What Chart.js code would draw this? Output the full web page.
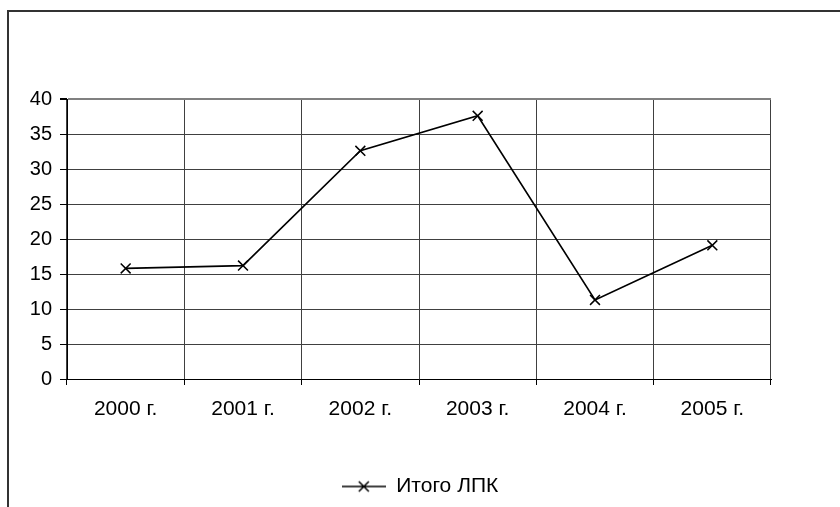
<!DOCTYPE html>
<html>
<head>
<meta charset="utf-8">
<script src="https://cdn.jsdelivr.net/npm/chart.js@4/dist/chart.umd.min.js"></script>
<style>
  html, body { margin: 0; padding: 0; background: #fff; }
  #wrap { width: 840px; height: 507px; }
</style>
</head>
<body>
<div id="wrap"><canvas id="chart" width="840" height="507"></canvas></div>
<script>
  const years = ['2000 г.', '2001 г.', '2002 г.', '2003 г.', '2004 г.', '2005 г.'];
  const totalLpk = [15.8, 16.2, 32.6, 37.6, 11.3, 19.1];
  const seriesLabel = 'Итого ЛПК';
  const yMin = 0;
  const yMax = 40;
  const yStep = 5;

  const fontFamily = '"Liberation Sans", Arial, sans-serif';

  // legend symbol: short line with a rotated cross in the middle
  const legendMark = document.createElement('canvas');
  legendMark.width = 44;
  legendMark.height = 14;
  (() => {
    const c = legendMark.getContext('2d');
    c.strokeStyle = '#000';
    c.lineWidth = 1.5;
    c.beginPath();
    c.moveTo(0, 7);
    c.lineTo(44, 7);
    c.moveTo(17, 2);
    c.lineTo(27, 12);
    c.moveTo(27, 2);
    c.lineTo(17, 12);
    c.stroke();
  })();

  const frame = {
    id: 'frame',
    beforeDraw(chart) {
      const ctx = chart.ctx;
      ctx.save();
      ctx.strokeStyle = '#333';
      ctx.lineWidth = 2;
      ctx.beginPath();
      ctx.moveTo(8, 507);
      ctx.lineTo(8, 11);
      ctx.lineTo(840, 11);
      ctx.stroke();
      ctx.restore();
    },
  };

  new Chart(document.getElementById('chart').getContext('2d'), {
    type: 'line',
    data: {
      labels: years,
      datasets: [
        {
          label: seriesLabel,
          data: totalLpk,
          borderColor: '#000',
          borderWidth: 1.6,
          pointStyle: 'crossRot',
          pointRadius: 7,
          pointBorderColor: '#000',
          pointBorderWidth: 1.5,
          tension: 0,
        },
      ],
    },
    options: {
      responsive: false,
      animation: false,
      layout: { padding: { top: 99, right: 0, left: 0, bottom: 0 } },
      plugins: {
        tooltip: { enabled: false },
        legend: {
          position: 'bottom',
          labels: {
            color: '#000',
            font: { family: fontFamily, size: 21 },
            usePointStyle: true,
            pointStyle: legendMark,
            pointStyleWidth: 44,
            padding: 10,
            generateLabels(chart) {
              return chart.data.datasets.map((ds, i) => ({
                text: ds.label,
                pointStyle: legendMark,
                fillStyle: '#000',
                strokeStyle: '#000',
                lineWidth: 0,
                datasetIndex: i,
                fontColor: '#000',
              }));
            },
          },
        },
      },
      scales: {
        x: {
          offset: true,
          afterFit(scale) { scale.height = 87; },
          grid: {
            offset: true,
            color: (ctx) => (ctx.index === years.length ? '#808080' : '#404040'),
            lineWidth: (ctx) => (ctx.index === years.length ? 2 : 1),
            tickColor: '#000',
            tickLength: 6,
          },
          border: { color: '#000', width: 1 },
          ticks: {
            color: '#000',
            font: { family: fontFamily, size: 21 },
            padding: 12,
            maxRotation: 0,
          },
        },
        y: {
          min: yMin,
          max: yMax,
          afterFit(scale) { scale.width = 67; },
          grid: {
            color: (ctx) => (ctx.tick && ctx.tick.value === yMax ? '#808080' : '#404040'),
            lineWidth: (ctx) => (ctx.tick && ctx.tick.value === yMax ? 2 : 1),
            tickColor: '#000',
            tickLength: 7,
          },
          border: { color: '#000', width: 1 },
          ticks: {
            stepSize: yStep,
            color: '#000',
            font: { family: fontFamily, size: 20 },
            padding: 8,
          },
        },
        // empty right-hand axis only reserves the blank strip right of the plot
        yRight: {
          position: 'right',
          afterFit(scale) { scale.width = 69; },
          grid: { display: false },
          border: { display: false },
          ticks: { display: false },
        },
      },
    },
    plugins: [frame],
  });
</script>
</body>
</html>
